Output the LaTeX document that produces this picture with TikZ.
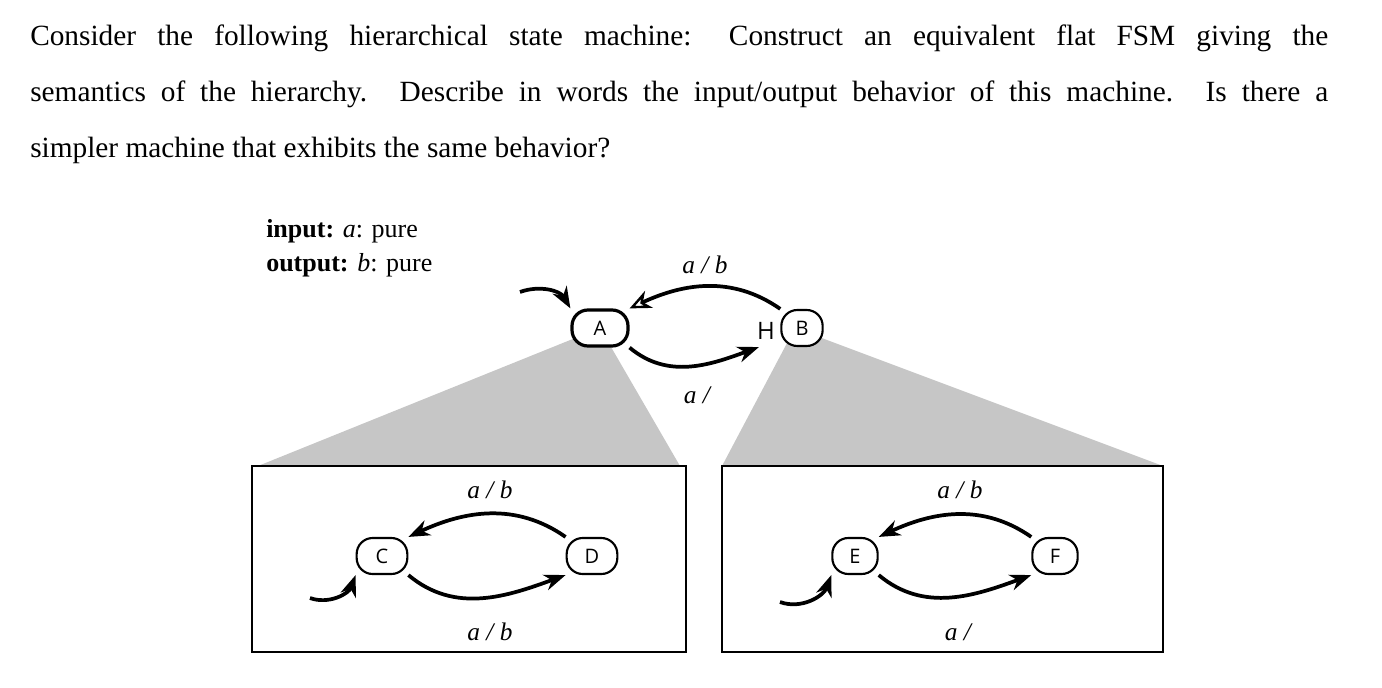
\documentclass[tikz,border=0pt]{standalone}
\usepackage{fontspec}
\setmainfont{Liberation Serif}
\newfontfamily\statefont{Open Sans}
\usetikzlibrary{arrows.meta}
\begin{document}
\begin{tikzpicture}[x=0.75pt,y=-0.75pt,
  st/.style={draw,line width=1.6pt,rounded corners=12pt,minimum height=27pt,inner sep=2pt,font=\statefont\fontsize{15}{15}\selectfont},
  tr/.style={line width=2.8pt,-{Stealth[length=16pt,width=12pt,inset=5pt]}},
  lbl/.style={font=\fontsize{19}{19}\selectfont\itshape},
  line/.style={anchor=base west,inner sep=0pt,font=\fontsize{22}{22}\selectfont}]
\useasboundingbox (0,0) rectangle (1382,688);
\node[line] (l1) at (30,46) {\makebox[973.5pt][s]{Consider the following hierarchical state machine: Construct an equivalent flat FSM giving the}};
\node[line] (l2) at (30,102) {\makebox[973.5pt][s]{semantics of the hierarchy. Describe in words the input/output behavior of this machine. Is there a}};
\node[line] (l3) at (30,158) {simpler machine that exhibits the same behavior?};
\node[anchor=base west,inner sep=0pt,font=\fontsize{19.5}{19.5}\selectfont] (in) at (266,238) {\textbf{input:} \textit{a}: pure};
\node[anchor=base west,inner sep=0pt,font=\fontsize{19.5}{19.5}\selectfont] (out) at (266,272) {\textbf{output:} \textit{b}: pure};
% gray wedges
\fill[gray!45] (600,328) -- (258,466) -- (680,466) -- cycle;
\fill[gray!45] (795,328) -- (722,466) -- (1163,466) -- cycle;
\draw[line width=1.2pt,fill=white] (252,466) rectangle (686,652);
\draw[line width=1.2pt,fill=white] (722,466) rectangle (1163,652);
% top
\node[st,fill=white,minimum width=42pt,line width=2.4pt] (A) at (600,328) {A};
\node[st,fill=white,minimum width=31pt] (B) at (802,328) {B};
\node[font=\statefont\fontsize{18}{18}\selectfont] (H) at (766,331) {H};
\coordinate (iA) at (520,292);
\draw[tr] (iA) to[out=20,in=120] (A.north west);
\draw[line width=2.8pt,-{Stealth[open,length=16pt,width=14pt,inset=5pt,line width=1.8pt]}] (B.north west) to[out=145,in=25] (A.north east);
\draw[tr] (A.south east) to[out=-40,in=200] ([xshift=-16pt]B.south west);
\node[lbl] (t1) at (705,265) {a / b};
\node[lbl] (t2) at (697,395) {a /};
% box 1
\node[st,minimum width=38pt] (C) at (382,556) {C};
\node[st,minimum width=38pt] (D) at (592,556) {D};
\coordinate (iC) at (310,598);
\draw[tr] (iC) to[out=-20,in=-110] (C.south west);
\draw[tr] (D.north west) to[out=145,in=25] (C.north east);
\draw[tr] (C.south east) to[out=-40,in=200] (D.south west);
\node[lbl] (t3) at (490,490) {a / b};
\node[lbl] (t4) at (490,632) {a / b};
% box 2
\node[st,minimum width=34pt] (E) at (855,556) {E};
\node[st,minimum width=34pt] (F) at (1055,556) {F};
\coordinate (iE) at (780,602);
\draw[tr] (iE) to[out=-20,in=-110] (E.south west);
\draw[tr] (F.north west) to[out=145,in=25] (E.north east);
\draw[tr] (E.south east) to[out=-40,in=200] (F.south west);
\node[lbl] (t5) at (960,490) {a / b};
\node[lbl] (t6) at (958,632) {a /};
\end{tikzpicture}
\end{document}
